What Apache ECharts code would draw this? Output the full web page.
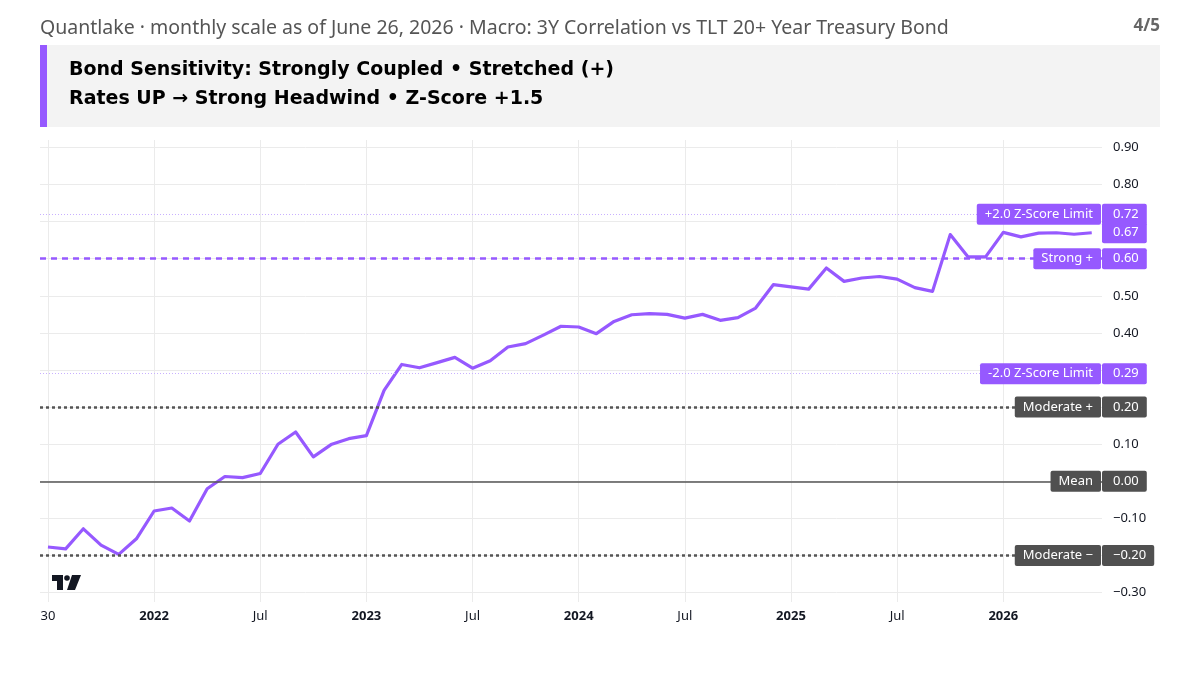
<!DOCTYPE html>
<html>
<head>
<meta charset="utf-8">
<script src="https://cdn.jsdelivr.net/npm/echarts@6/dist/echarts.min.js"></script>
<style>
  html, body { margin: 0; padding: 0; background: #fff; }
  #chart { width: 1200px; height: 675px; }
</style>
</head>
<body>
<div id="chart"></div>
<script>
// month index 0 = Jul 2021 ... 59 = Jun 2026
const xTickIdx = [0, 6, 12, 18, 24, 30, 36, 42, 48, 54];
const xTickLabels = ['30', '2022', 'Jul', '2023', 'Jul', '2024', 'Jul', '2025', 'Jul', '2026'];
const yTicks = [-0.3, -0.2, -0.1, 0, 0.1, 0.2, 0.3, 0.4, 0.5, 0.6, 0.7, 0.8, 0.9];
const yTicksShown = [-0.3, -0.1, 0.1, 0.4, 0.5, 0.8, 0.9];

const corr = [
  -0.177, -0.182, -0.128, -0.172, -0.197, -0.155, -0.080, -0.072, -0.107, -0.020,
  0.013, 0.010, 0.021, 0.100, 0.133, 0.066, 0.099, 0.115, 0.123, 0.245,
  0.315, 0.306, 0.320, 0.334, 0.305, 0.325, 0.362, 0.371, 0.394, 0.418,
  0.416, 0.398, 0.431, 0.449, 0.452, 0.450, 0.440, 0.450, 0.434, 0.441,
  0.467, 0.530, 0.524, 0.518, 0.575, 0.539, 0.548, 0.552, 0.545, 0.522,
  0.512, 0.665, 0.605, 0.605, 0.671, 0.659, 0.669, 0.670, 0.666, 0.670
];

const levelValues = [0.72, 0.60, 0.29, 0.20, 0.00, -0.20];
const levelNames = ['+2.0 Z-Score Limit', 'Strong +', '-2.0 Z-Score Limit', 'Moderate +', 'Mean', 'Moderate \u2212'];

const PURPLE = '#9659ff';
const GRAY = '#555555';
const FONT = 'Noto Sans';

const levelStyles = [
  { line: { color: '#c8b0ff', width: 1, type: [1, 2] }, tag: PURPLE },
  { line: { color: PURPLE, width: 2.5, type: [6, 5] }, tag: PURPLE },
  { line: { color: '#c8b0ff', width: 1, type: [1, 2] }, tag: PURPLE },
  { line: { color: GRAY, width: 2.5, type: [3, 3] }, tag: '#505050' },
  { line: { color: GRAY, width: 1.5, type: 'solid' }, tag: '#505050' },
  { line: { color: GRAY, width: 2.5, type: [3, 3] }, tag: '#505050' }
];

function fmt(v) {
  return (v < 0 ? '\u2212' : '') + Math.abs(v).toFixed(2);
}

function tagLabel(text, bg, pos) {
  return {
    show: true,
    position: pos,
    formatter: text,
    color: '#fff',
    opacity: 1,
    backgroundColor: bg,
    fontFamily: FONT,
    fontSize: 13,
    lineHeight: 15,
    padding: pos === 'end' ? [3, 8, 3, 11] : [3, 8],
    borderRadius: 2,
    distance: pos === 'end' ? 0 : 1
  };
}

const markData = [];
levelValues.forEach((v, i) => {
  markData.push({
    yAxis: v,
    lineStyle: levelStyles[i].line,
    label: tagLabel(levelNames[i], levelStyles[i].tag, 'insideEnd')
  });
  markData.push({
    yAxis: v,
    lineStyle: { width: 0, color: 'rgba(0,0,0,0)' },
    label: tagLabel(fmt(v), levelStyles[i].tag, 'end')
  });
});
// last value tag of the series
const lastVal = corr[corr.length - 1];
markData.push({
  yAxis: lastVal,
  lineStyle: { width: 0, color: 'rgba(0,0,0,0)' },
  label: tagLabel(fmt(lastVal), PURPLE, 'end')
});

const chart = echarts.init(document.getElementById('chart'), null, { renderer: 'canvas' });

chart.setOption({
  animation: false,
  backgroundColor: '#fff',
  textStyle: { fontFamily: FONT },
  grid: { left: 40, right: 98, top: 140, bottom: 73, containLabel: false },
  xAxis: {
    type: 'value',
    min: -0.45,
    max: 59.58,
    axisLine: { show: false },
    axisTick: { show: false, customValues: xTickIdx },
    splitLine: { show: true, lineStyle: { color: '#ebebeb', width: 1 } },
    axisLabel: {
      customValues: xTickIdx,
      margin: 8,
      color: '#131722',
      fontSize: 13,
      fontFamily: FONT,
      formatter: (v) => {
        const t = xTickLabels[xTickIdx.indexOf(Math.round(v))] || '';
        return /^\d{4}$/.test(t) ? '{b|' + t + '}' : t;
      },
      rich: { b: { fontWeight: 'bold', fontSize: 13, color: '#131722', fontFamily: FONT } }
    }
  },
  yAxis: {
    type: 'value',
    position: 'right',
    min: -0.3253,
    max: 0.92,
    axisLine: { show: false },
    axisTick: { show: false, customValues: yTicks },
    splitLine: { show: true, lineStyle: { color: '#ebebeb', width: 1 } },
    axisLabel: {
      customValues: yTicks,
      margin: 11,
      color: '#131722',
      fontSize: 13,
      fontFamily: FONT,
      formatter: (v) => yTicksShown.some((s) => Math.abs(s - v) < 1e-6) ? fmt(v) : ''
    }
  },
  series: [
    {
      type: 'line',
      z: 1,
      data: [],
      silent: true,
      clip: false,
      markLine: {
        silent: true,
        symbol: ['none', 'none'],
        animation: false,
        data: markData
      }
    },
    {
      type: 'line',
      z: 3,
      data: corr.map((v, i) => [i, v]),
      showSymbol: false,
      symbol: 'none',
      lineStyle: { color: PURPLE, width: 3.2, join: 'round' }
    }
  ],
  graphic: [
    {
      type: 'text', left: 40, top: 18,
      style: {
        text: 'Quantlake \u00b7 monthly scale as of June 26, 2026 \u00b7 Macro: 3Y Correlation vs TLT 20+ Year Treasury Bond',
        fill: '#555', font: '19.5px "Noto Sans"'
      }
    },
    {
      type: 'text', right: 40, top: 18,
      style: { text: '4/5', fill: '#666', font: 'bold 17px "Noto Sans"' }
    },
    { type: 'rect', shape: { x: 40, y: 45, width: 1120, height: 82 }, style: { fill: '#f3f3f3' } },
    { type: 'rect', shape: { x: 40, y: 45, width: 7, height: 82 }, style: { fill: PURPLE } },
    {
      type: 'text', left: 69, top: 61,
      style: { text: 'Bond Sensitivity: Strongly Coupled \u2022 Stretched (+)', fill: '#000', font: 'bold 19px "DejaVu Sans"' }
    },
    {
      type: 'text', left: 69, top: 90,
      style: { text: 'Rates UP \u2192 Strong Headwind \u2022 Z-Score +1.5', fill: '#000', font: 'bold 19px "DejaVu Sans"' }
    },
    // small TV logo
    { type: 'rect', shape: { x: 52, y: 575, width: 11, height: 6 }, style: { fill: '#131722' } },
    { type: 'rect', shape: { x: 57, y: 575, width: 6, height: 15 }, style: { fill: '#131722' } },
    { type: 'circle', shape: { cx: 67, cy: 578, r: 2.8 }, style: { fill: '#131722' } },
    { type: 'polygon', shape: { points: [[72, 575], [81, 575], [75, 590], [67, 590]] }, style: { fill: '#131722' } }
  ]
});
</script>
</body>
</html>
